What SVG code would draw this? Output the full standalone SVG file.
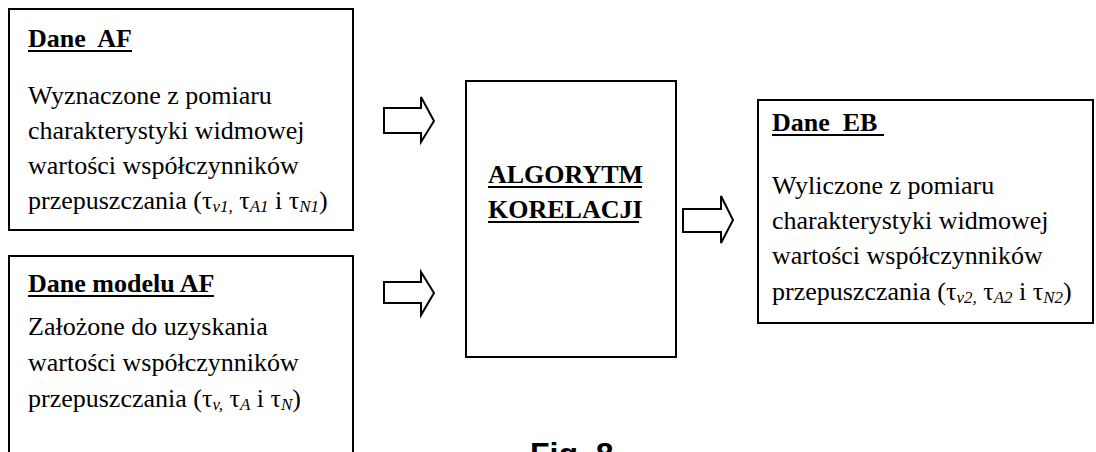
<svg xmlns="http://www.w3.org/2000/svg" width="1096" height="452" viewBox="0 0 1096 452">
<style>
.box{fill:#fff;stroke:#000;stroke-width:2}
.t{font-family:'Liberation Serif','Times New Roman',serif;font-size:26px;fill:#000}
.h{font-family:'Liberation Serif','Times New Roman',serif;font-size:26px;font-weight:bold;fill:#000}
.s{font-style:italic;font-size:17px}
.ul{stroke:#000;stroke-width:2}
.arr{fill:#fff;stroke:#000;stroke-width:2;stroke-linejoin:miter}
.fig{font-family:'Liberation Sans',Arial,sans-serif;font-size:32px;font-weight:bold;fill:#000}
</style>
<rect width="1096" height="452" fill="#fff"/>
<g id="dane-af">
<rect class="box" x="9" y="9" width="344" height="221"/>
<text class="h" x="28" y="47" xml:space="preserve">Dane  AF</text>
<line class="ul" x1="28" y1="51" x2="132" y2="51"/>
<text class="t" x="28" y="104">Wyznaczone z pomiaru</text>
<text class="t" x="28" y="139">charakterystyki widmowej</text>
<text class="t" x="28" y="174">wartości współczynników</text>
<text class="t" x="28" y="209">przepuszczania (τ<tspan class="s" dy="3">v1,</tspan><tspan dy="-3"> τ</tspan><tspan class="s" dy="3">A1</tspan><tspan dy="-3"> i τ</tspan><tspan class="s" dy="3">N1</tspan><tspan dy="-3">)</tspan></text>
</g>
<g id="dane-modelu-af">
<rect class="box" x="9" y="256" width="344" height="220"/>
<text class="h" x="28" y="292">Dane modelu AF</text>
<line class="ul" x1="28" y1="296" x2="214" y2="296"/>
<text class="t" x="28" y="335">Założone do uzyskania</text>
<text class="t" x="28" y="371">wartości współczynników</text>
<text class="t" x="28" y="407">przepuszczania (τ<tspan class="s" dy="3">v,</tspan><tspan dy="-3"> τ</tspan><tspan class="s" dy="3">A</tspan><tspan dy="-3"> i τ</tspan><tspan class="s" dy="3">N</tspan><tspan dy="-3">)</tspan></text>
</g>
<g id="algorytm">
<rect class="box" x="466" y="81" width="210" height="276"/>
<text class="h" x="488" y="183">ALGORYTM</text>
<line class="ul" x1="488" y1="187" x2="642" y2="187"/>
<text class="h" x="488" y="218">KORELACJI</text>
<line class="ul" x1="488" y1="222" x2="639" y2="222"/>
</g>
<g id="dane-eb">
<rect class="box" x="758" y="100" width="335" height="223"/>
<text class="h" x="772" y="131" xml:space="preserve">Dane  EB</text>
<line class="ul" x1="772" y1="135" x2="884" y2="135"/>
<text class="t" x="772" y="194">Wyliczone z pomiaru</text>
<text class="t" x="772" y="229">charakterystyki widmowej</text>
<text class="t" x="772" y="264">wartości współczynników</text>
<text class="t" x="772" y="300">przepuszczania (τ<tspan class="s" dy="3">v2,</tspan><tspan dy="-3"> τ</tspan><tspan class="s" dy="3">A2</tspan><tspan dy="-3"> i τ</tspan><tspan class="s" dy="3">N2</tspan><tspan dy="-3">)</tspan></text>
</g>
<g id="connectors">
<polygon class="arr" points="384,108 421,108 421,97 434,121 421,142 421,133 384,133"/>
<polygon class="arr" points="384,282 421,282 421,272 434,293 421,315 421,303 384,303"/>
<polygon class="arr" points="683,209 721,209 721,196 733,220 721,243 721,232 683,232"/>
</g>
<text class="fig" x="530" y="465">Fig. 8</text>
</svg>
